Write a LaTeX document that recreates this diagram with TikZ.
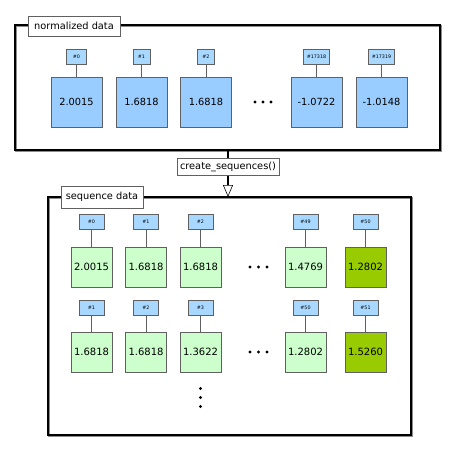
\documentclass[tikz,border=0pt]{standalone}
\usepackage{fontspec}
\setmainfont{DejaVu Sans}
\usetikzlibrary{arrows.meta}
\definecolor{bluebox}{HTML}{99CCFF}
\definecolor{bluelab}{HTML}{A8D8FF}
\definecolor{greenlt}{HTML}{CCFFCC}
\definecolor{greendk}{HTML}{99CC00}
\definecolor{edgegray}{HTML}{606060}
\tikzset{
  frameline/.style={draw=black, line width=2pt},
  frameshadow/.style={draw=black!45, line width=2pt},
  titlebox/.style={draw=edgegray, fill=white, line width=0.6pt, inner sep=0pt, font=\fontsize{9.8}{11}\selectfont},
  idx/.style={draw=edgegray, fill=bluelab, line width=0.6pt, inner sep=0pt, minimum height=15pt, font=\fontsize{4.8}{5}\selectfont},
  valbig/.style={draw=edgegray, fill=bluebox, line width=0.6pt, minimum width=51pt, minimum height=50pt, inner sep=0pt, font=\fontsize{9.8}{11}\selectfont},
  valseq/.style={draw=edgegray, fill=greenlt, line width=0.6pt, minimum width=41pt, minimum height=40pt, inner sep=0pt, font=\fontsize{10}{11}\selectfont},
  valtgt/.style={valseq, fill=greendk},
  stem/.style={draw=edgegray, line width=0.6pt},
  dotsym/.style={circle, fill=black, inner sep=0pt, minimum size=3.2pt},
}
\begin{document}
\begin{tikzpicture}[x=1pt,y=-1pt]
\useasboundingbox (0,0) rectangle (455,450);
% top frame
\draw[frameshadow] (16,26) rectangle (441,151);
\draw[frameline] (15,25) rectangle (440,150);
\node[titlebox, minimum width=92pt, minimum height=20pt] (t1) at (74,26) {normalized data};
% top values
\foreach \n/\x/\lab/\v/\w in {a0/76.5/\#0/2.0015/20, a1/141.5/\#1/1.6818/17, a2/206/\#2/1.6818/17, a3/316.5/\#17318/-1.0722/26, a4/381.5/\#17319/-1.0148/26}{
  \node[valbig] (\n) at (\x,102) {\v};
  \node[idx, minimum width=\w pt] (\n l) at (\x,56.5) {\lab};
  \draw[stem] (\n l.south) -- (\n.north);
}
\node[dotsym] (d1) at (255,102) {};
\node[dotsym] (d2) at (263,102) {};
\node[dotsym] (d3) at (271,102) {};
% bottom frame
\draw[frameshadow] (49,198) rectangle (412,436);
\draw[frameline] (48,197) rectangle (411,435);
\node[titlebox, minimum width=82pt, minimum height=22pt] (t2) at (102,197) {sequence data};
% arrow
\coordinate (s) at (228,150);
\coordinate (e) at (228,197);
\node[titlebox, minimum width=102pt, minimum height=17pt] (op) at (228,167) {create\_sequences()};
\draw[line width=2.5pt] (s) -- (op.north);
\draw[line width=2.5pt, -{Triangle[open, length=12pt, width=10pt, line width=0.6pt]}] (op.south) -- (e);
% sequence rows
\foreach \n/\x/\lab/\v/\sty in {b0/91.5/\#0/2.0015/valseq, b1/146/\#1/1.6818/valseq, b2/200.5/\#2/1.6818/valseq, b3/305.5/\#49/1.4769/valseq, b4/365.5/\#50/1.2802/valtgt}{
  \node[\sty] (\n) at (\x,267) {\v};
  \node[idx, minimum width=25pt] (\n l) at (\x,221.5) {\lab};
  \draw[stem] (\n l.south) -- (\n.north);
}
\foreach \n/\x/\lab/\v/\sty in {c0/91.5/\#1/1.6818/valseq, c1/146/\#2/1.6818/valseq, c2/200.5/\#3/1.3622/valseq, c3/305.5/\#50/1.2802/valseq, c4/365.5/\#51/1.5260/valtgt}{
  \node[\sty] (\n) at (\x,352) {\v};
  \node[idx, minimum width=25pt] (\n l) at (\x,307.5) {\lab};
  \draw[stem] (\n l.south) -- (\n.north);
}
\node[dotsym] (e1) at (250,267) {};
\node[dotsym] (e2) at (258.5,267) {};
\node[dotsym] (e3) at (267,267) {};
\node[dotsym] (f1) at (250,352) {};
\node[dotsym] (f2) at (258.5,352) {};
\node[dotsym] (f3) at (267,352) {};
\node[dotsym] (g1) at (200.5,388.5) {};
\node[dotsym] (g2) at (200.5,397.5) {};
\node[dotsym] (g3) at (200.5,406.5) {};
\end{tikzpicture}
\end{document}
